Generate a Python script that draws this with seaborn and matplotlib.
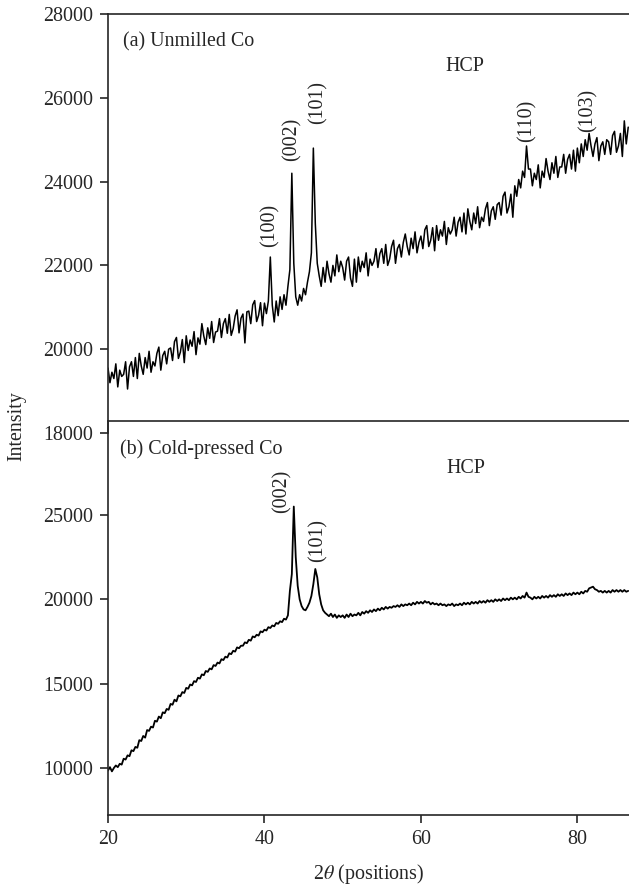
# -*- coding: utf-8 -*-
"""
XRD patterns of unmilled and cold-pressed Co (two stacked panels)
"""

import numpy as np
import pandas as pd
import seaborn as sns
import matplotlib
matplotlib.use("Agg")
import matplotlib.pyplot as plt

sns.set_style("ticks")
plt.rcParams['font.family'] = ['Liberation Serif', 'DejaVu Serif']
plt.rcParams['mathtext.fontset'] = 'stix'

#%% data: scan from 20 to 86.5 deg, step 0.25
two_theta = np.arange(20.0, 86.51, 0.25)

# (a) unmilled Co, one row = 2 degrees
unmilled = [
    19550, 19200, 19450, 19300, 19650, 19100, 19500, 19350,
    19400, 19700, 19050, 19580, 19700, 19350, 19800, 19300,
    19900, 19600, 19400, 19800, 19550, 19950, 19450, 19700,
    19600, 19900, 20050, 19500, 19850, 19950, 19650, 20000,
    20030, 19730, 20180, 20280, 19780, 19930, 20230, 19680,
    20320, 19970, 20220, 20070, 20420, 19870, 20270, 20120,
    20610, 20310, 20110, 20510, 20260, 20660, 20160, 20410,
    20430, 20730, 20280, 20610, 20730, 20380, 20830, 20330,
    20490, 20790, 20940, 20390, 20740, 20840, 20150, 20890,
    20910, 20610, 21060, 21160, 20660, 20810, 21110, 20560,
    21100, 20850, 21150, 22200, 21050, 20650, 21150, 20800,
    21250, 20950, 21300, 21050, 21500, 21900, 24200, 22050,
    21250, 21050, 21300, 21150, 21450, 21300, 21600, 21850,
    22300, 24800, 23000, 22050, 21750, 21500, 21950, 21600,
    22100, 21800, 21600, 22000, 21750, 22250, 21850, 22100,
    21950, 21650, 22100, 22200, 21700, 21500, 22150, 21600,
    22200, 21850, 22100, 21950, 22300, 21750, 22150, 22000,
    22100, 22400, 21950, 22280, 22400, 22050, 22500, 22000,
    22150, 22450, 22600, 22050, 22400, 22500, 22200, 22550,
    22750, 22450, 22250, 22650, 22400, 22800, 22300, 22550,
    22700, 22400, 22850, 22950, 22450, 22600, 22900, 22350,
    22950, 22600, 22850, 22700, 23050, 22500, 22900, 22750,
    22850, 23150, 22700, 23030, 23150, 22800, 23250, 22750,
    23350, 23050, 22850, 23250, 23000, 23400, 22900, 23150,
    23050, 23350, 23500, 22950, 23300, 23400, 23100, 23450,
    23500, 23200, 23650, 23750, 23250, 23400, 23700, 23150,
    23900, 23650, 24050, 23850, 24250, 24100, 24850, 24300,
    24300, 23900, 24200, 24050, 24400, 23850, 24250, 24100,
    24550, 24250, 24050, 24450, 24200, 24600, 24100, 24350,
    24350, 24650, 24200, 24530, 24650, 24300, 24750, 24250,
    24800, 24450, 24900, 24600, 25000, 24750, 25150, 24850,
    24600, 24900, 25050, 24500, 24850, 24950, 24650, 25000,
    24950, 24650, 25100, 25200, 24700, 24850, 25150, 24600,
    25450, 24900, 25300,
]

# (b) cold-pressed Co
cold_pressed = [
    9850, 10050, 9800, 10000, 10150, 10050, 10250, 10200,
    10550, 10500, 10750, 10700, 11050, 11000, 11250, 11200,
    11650, 11600, 11900, 11800, 12250, 12200, 12450, 12400,
    12800, 12750, 13050, 12950, 13300, 13250, 13500, 13450,
    13800, 13750, 14050, 13950, 14300, 14250, 14500, 14450,
    14750, 14700, 14950, 14900, 15150, 15100, 15350, 15300,
    15550, 15500, 15750, 15700, 15900, 15850, 16100, 16050,
    16250, 16200, 16450, 16400, 16600, 16550, 16800, 16750,
    16950, 16900, 17150, 17100, 17250, 17250, 17450, 17400,
    17600, 17550, 17800, 17750, 17900, 17850, 18100, 18050,
    18200, 18150, 18350, 18300, 18450, 18400, 18600, 18550,
    18700, 18650, 18850, 18800, 19050, 20500, 21500, 25500,
    22500, 20800, 20000, 19600, 19400, 19350, 19550, 19800,
    20200, 20900, 21800, 21300, 20300, 19700, 19350, 19200,
    19100, 19000, 19150, 18950, 19100, 18900, 19050, 18950,
    19050, 18900, 19100, 18950, 19150, 19000, 19100, 19050,
    19200, 19050, 19250, 19150, 19300, 19200, 19350, 19250,
    19400, 19300, 19450, 19350, 19500, 19400, 19550, 19450,
    19550, 19500, 19600, 19550, 19650, 19550, 19700, 19600,
    19700, 19650, 19750, 19650, 19800, 19700, 19850, 19750,
    19850, 19750, 19900, 19800, 19850, 19700, 19800, 19700,
    19750, 19650, 19750, 19650, 19700, 19600, 19700, 19650,
    19750, 19600, 19700, 19650, 19750, 19650, 19800, 19700,
    19800, 19700, 19850, 19750, 19850, 19750, 19900, 19800,
    19900, 19800, 19950, 19850, 19950, 19850, 20000, 19900,
    20000, 19900, 20050, 19950, 20050, 19950, 20100, 20000,
    20100, 20000, 20150, 20050, 20200, 20100, 20400, 20150,
    20100, 20000, 20150, 20050, 20150, 20050, 20200, 20100,
    20200, 20100, 20250, 20150, 20250, 20150, 20300, 20200,
    20300, 20200, 20350, 20250, 20350, 20250, 20400, 20300,
    20400, 20300, 20450, 20350, 20500, 20450, 20650, 20700,
    20750, 20600, 20550, 20450, 20500, 20400, 20500, 20400,
    20500, 20400, 20550, 20450, 20550, 20450, 20550, 20450,
    20550, 20450, 20500,
]

# peak labels (2theta, intensity where the label sits)
peaks_a = ["(100)", "(002)", "(101)", "(110)", "(103)"]
peaks_a_x = [40.7, 43.5, 46.9, 73.5, 81.3]
peaks_a_y = [22950, 25000, 25900, 25450, 25700]
peaks_b = ["(002)", "(101)"]
peaks_b_x = [42.2, 46.8]
peaks_b_y = [26400, 23500]

df_a = pd.DataFrame({"two_theta": two_theta, "Intensity": unmilled})
df_b = pd.DataFrame({"two_theta": two_theta, "Intensity": cold_pressed})

#%% plot
fs = 14.4
fig = plt.figure(figsize=(6.29, 8.88), dpi=100)
ax1 = fig.add_axes([0.1717, 0.5124, 0.8283, 0.4718])
ax2 = fig.add_axes([0.1717, 0.0822, 0.8283, 0.4437])
ax2.patch.set_alpha(0)

sns.lineplot(data=df_a, x="two_theta", y="Intensity", ax=ax1, color="black", linewidth=1.1)
sns.lineplot(data=df_b, x="two_theta", y="Intensity", ax=ax2, color="black", linewidth=1.3)

for ax in (ax1, ax2):
    ax.set_xlim(20, 86.6)
    ax.spines['right'].set_visible(False)
    for s in ('left', 'top', 'bottom'):
        ax.spines[s].set_linewidth(1.2)
    ax.tick_params(direction='out', length=6, width=1.2, labelsize=fs, pad=5)
    ax.set_ylabel("")
    ax.set_xlabel("")

ax1.set_ylim(18000, 28000)
ax1.set_yticks([18000, 20000, 22000, 24000, 26000, 28000])
ax1.spines['bottom'].set_visible(False)
ax1.tick_params(axis='x', bottom=False, labelbottom=False)

ax2.set_ylim(7213, 30573)
ax2.set_yticks([10000, 15000, 20000, 25000])
ax2.set_xticks([20, 40, 60, 80])
ax2.set_xlabel(r"2$\theta$ (positions)", fontsize=fs, labelpad=9)

ax1.text(21.9, 27340, "(a) Unmilled Co", fontsize=fs, va='center', ha='left')
ax1.text(65.6, 26740, "HCP", fontsize=fs, va='center', ha='center')
for lab, x, y in zip(peaks_a, peaks_a_x, peaks_a_y):
    ax1.text(x, y, lab, fontsize=fs, rotation=90, va='center', ha='center')

ax2.text(21.5, 28880, "(b) Cold-pressed Co", fontsize=fs, va='center', ha='left')
ax2.text(65.8, 27730, "HCP", fontsize=fs, va='center', ha='center')
for lab, x, y in zip(peaks_b, peaks_b_x, peaks_b_y):
    ax2.text(x, y, lab, fontsize=fs, rotation=90, va='center', ha='center')

fig.text(0.027, 0.52, "Intensity", rotation=90, va='center', ha='center', fontsize=fs)

plt.savefig("out.png", dpi=100)
